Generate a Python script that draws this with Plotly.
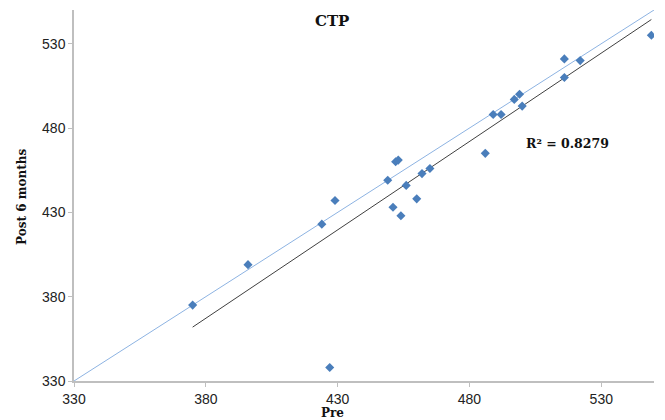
import numpy as np
import plotly.graph_objects as go

# Data (Pre vs Post 6 months)
pre = [375, 396, 424, 429, 449, 452, 453, 451, 454, 456, 460, 462, 465, 486,
       489, 492, 497, 499, 500, 516, 516, 522, 549, 427]
post6 = [375, 399, 423, 437, 449, 460, 461, 433, 428, 446, 438, 453, 456, 465,
         488, 488, 497, 500, 493, 521, 510, 520, 535, 338]

axis_range = [330, 550]
tick_vals = [330, 380, 430, 480, 530]
title_text = "CTP"
x_title = "Pre"
y_title = "Post 6 months"
r2_label = "R² = 0.8279"

# linear trendline computed from the data
slope, intercept = np.polyfit(pre, post6, 1)
trend_x = [min(pre), max(pre)]
trend_y = [slope * v + intercept for v in trend_x]

fig = go.Figure()
# identity line (y = x)
fig.add_trace(go.Scatter(x=axis_range, y=axis_range, mode="lines",
                         line=dict(color="#8DB3E2", width=1), hoverinfo="skip"))
# trendline
fig.add_trace(go.Scatter(x=trend_x, y=trend_y, mode="lines",
                         line=dict(color="#404040", width=1), hoverinfo="skip"))
# data points
fig.add_trace(go.Scatter(x=pre, y=post6, mode="markers",
                         marker=dict(symbol="diamond", size=7, color="#4A7EBB",
                                     line=dict(width=0))))

axis_common = dict(range=axis_range, tickvals=tick_vals, showgrid=False,
                   zeroline=False, showline=True, linecolor="#BFBFBF", linewidth=1.5,
                   ticks="outside", ticklen=4, tickcolor="#BFBFBF", tickwidth=1,
                   tickfont=dict(family="Liberation Sans, Arial", size=14, color="#222222"))

fig.update_xaxes(**axis_common)
fig.update_yaxes(**axis_common)

L, R, T, B = 74, 654, 10, 381
W, H = 665, 420


def px(x):
    return (x - L) / (R - L)


def py(y):
    return (B - y) / (B - T)


def label(text, x, y, size, angle=0):
    return dict(text="<b>" + text + "</b>", xref="paper", yref="paper",
                x=px(x), y=py(y), xanchor="center", yanchor="middle",
                showarrow=False, textangle=angle,
                font=dict(family="DejaVu Serif", size=size, color="#111111"))


fig.update_layout(
    width=W, height=H,
    margin=dict(l=L, r=W - R, t=T, b=H - B),
    plot_bgcolor="white", paper_bgcolor="white",
    showlegend=False,
    annotations=[
        label(title_text, 332, 21, 15),
        label(x_title, 332, 413, 12),
        label(y_title, 22, 197, 12, -90),
        label(r2_label, 567, 143, 12.5),
    ],
)

fig.write_html("out.html", post_script="document.body.style.margin='0';",
               config={"displayModeBar": False})
